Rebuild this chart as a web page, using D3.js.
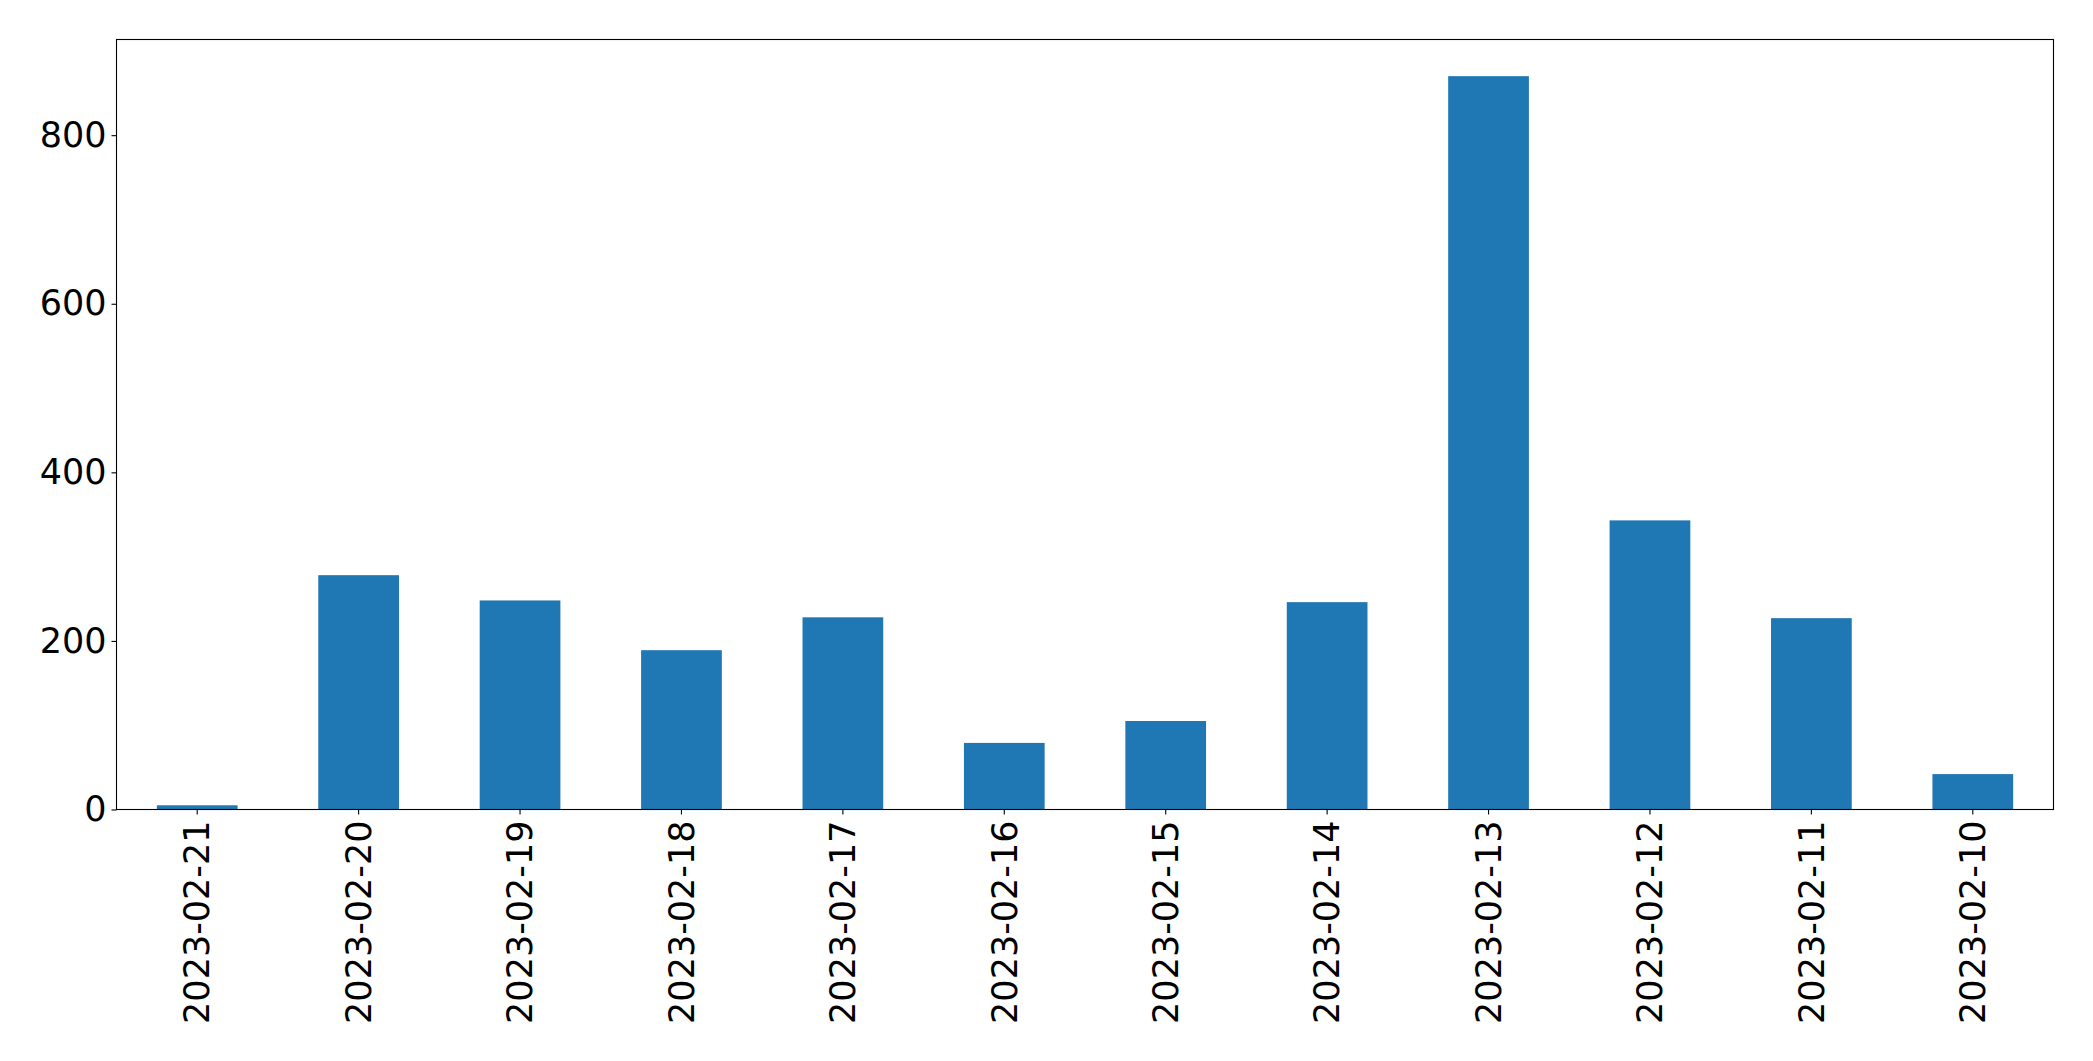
<!DOCTYPE html>
<html>
<head>
<meta charset="utf-8">
<script src="https://cdn.jsdelivr.net/npm/d3@7"></script>
<style>
  html, body { margin: 0; padding: 0; background: #fff; }
  svg { display: block; }
  text { font-family: "DejaVu Sans", sans-serif; }
</style>
</head>
<body>
<svg id="chart" width="2093" height="1061"></svg>
<script>
const categories = ["2023-02-21","2023-02-20","2023-02-19","2023-02-18","2023-02-17","2023-02-16",
                    "2023-02-15","2023-02-14","2023-02-13","2023-02-12","2023-02-11","2023-02-10"];
const values = [5, 278, 248, 189, 228, 79, 105, 246, 870, 343, 227, 42];
const yTicks = [0, 200, 400, 600, 800];

const W = 2093, H = 1061;
const margin = { left: 116.5, right: W - 2053.5, top: 39.5, bottom: H - 809.5 };
const svg = d3.select("#chart");
const plotW = W - margin.left - margin.right;
const plotH = H - margin.top - margin.bottom;
const g = svg.append("g").attr("transform", `translate(${margin.left},${margin.top})`);

const x = d3.scaleBand().domain(categories).range([0, plotW]).paddingInner(0.5).paddingOuter(0.25);
const yMax = d3.max(values) * 1.05;
const y = d3.scaleLinear().domain([0, yMax]).range([plotH, 0]);

g.selectAll("rect.bar").data(values).join("rect")
  .attr("class", "bar")
  .attr("x", (d, i) => x(categories[i]))
  .attr("y", d => y(d))
  .attr("width", x.bandwidth())
  .attr("height", d => y(0) - y(d))
  .attr("fill", "#1f77b4");

// frame
g.append("rect").attr("x", 0).attr("y", 0).attr("width", plotW).attr("height", plotH)
  .attr("fill", "none").attr("stroke", "#000").attr("stroke-width", 1.1);

const FS = 35;
const yAxis = g.append("g").call(d3.axisLeft(y).tickValues(yTicks).tickSize(5).tickPadding(5).tickFormat(d3.format("d")));
yAxis.select(".domain").remove();
yAxis.selectAll(".tick line").attr("stroke", "#000").attr("stroke-width", 1.1);
yAxis.selectAll("text").attr("font-size", FS).attr("fill", "#000").attr("font-family", "DejaVu Sans");

const xAxis = g.append("g").attr("transform", `translate(0,${plotH})`)
  .call(d3.axisBottom(x).tickSize(5).tickPadding(0));
xAxis.select(".domain").remove();
xAxis.selectAll(".tick line").attr("stroke", "#000").attr("stroke-width", 1.1);
xAxis.selectAll("text")
  .attr("font-size", FS).attr("fill", "#000").attr("font-family", "DejaVu Sans")
  .attr("transform", "rotate(-90)")
  .attr("text-anchor", "end")
  .attr("dy", "0.35em")
  .attr("x", -11)
  .attr("y", 0);
</script>
</body>
</html>
